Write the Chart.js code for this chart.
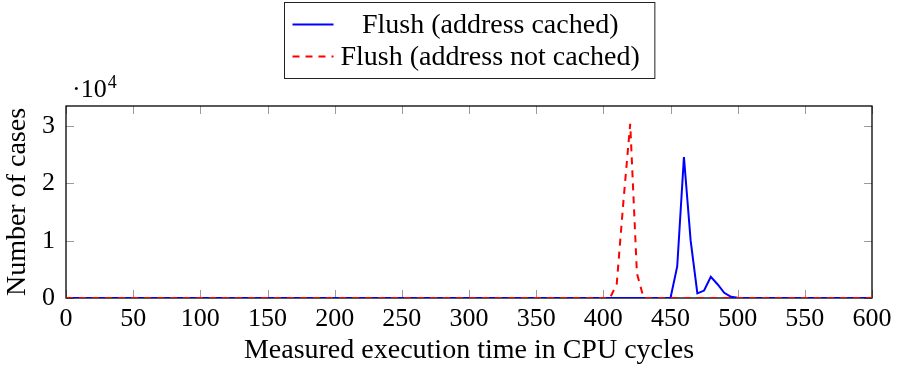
<!DOCTYPE html>
<html>
<head>
<meta charset="utf-8">
<title>Flush timing</title>
<script src="https://cdn.jsdelivr.net/npm/chart.js@4.4.0/dist/chart.umd.min.js"></script>
<style>
  html, body { margin: 0; padding: 0; background: #fff; }
</style>
</head>
<body>
<canvas id="myChart" width="899" height="368"></canvas>
<script>
// measured histograms (cycles -> number of cases)
const seriesLabels = ['Flush (address cached)', 'Flush (address not cached)'];
const cachedCycles = [0, 445, 450, 455, 460, 465, 470, 475, 480, 485, 490, 495, 500, 505, 600];
const cachedCounts = [0, 0, 0, 5500, 24600, 10000, 800, 1300, 3700, 2400, 900, 200, 50, 0, 0];
const notCachedCycles = [0, 400, 405, 410, 415, 420, 425, 430, 435, 600];
const notCachedCounts = [0, 0, 0, 2500, 17000, 30400, 4300, 0, 0, 0];
const xTicks = [0, 50, 100, 150, 200, 250, 300, 350, 400, 450, 500, 550, 600];
const yTicks = [0, 10000, 20000, 30000];
const yExponent = 4;

const SERIF = '"Liberation Serif", "Times New Roman", serif';

function toPoints(xs, ys) {
    return xs.map((x, i) => ({ x: x, y: ys[i] }));
}

// frame + inward tick marks on all four sides (pgfplots style)
const frameTicks = {
    id: 'frameTicks',
    beforeDatasetsDraw(chart) {
        const { ctx, chartArea: a, scales } = chart;
        const len = 8;
        ctx.save();
        ctx.strokeStyle = '#9a9a9a';
        ctx.lineWidth = 1;
        ctx.beginPath();
        xTicks.forEach(v => {
            const px = Math.round(scales.x.getPixelForValue(v)) + 0.5;
            ctx.moveTo(px, a.bottom); ctx.lineTo(px, a.bottom - len);
            ctx.moveTo(px, a.top); ctx.lineTo(px, a.top + len);
        });
        yTicks.forEach(v => {
            const py = Math.round(scales.y.getPixelForValue(v)) + 0.5;
            ctx.moveTo(a.left, py); ctx.lineTo(a.left + len, py);
            ctx.moveTo(a.right, py); ctx.lineTo(a.right - len, py);
        });
        ctx.stroke();
        ctx.strokeStyle = '#000';
        ctx.lineWidth = 1.3;
        ctx.strokeRect(a.left, a.top, a.right - a.left, a.bottom - a.top);
        ctx.restore();
    },
    afterDraw(chart) {
        // axis multiplier  ·10^4  above the y axis
        const { ctx, chartArea: a } = chart;
        ctx.save();
        ctx.fillStyle = '#000';
        ctx.textBaseline = 'alphabetic';
        ctx.textAlign = 'left';
        ctx.font = '26px ' + SERIF;
        const base = '\u00b710';
        const bx = a.left + 6, by = a.top - 9;
        ctx.fillText(base, bx, by);
        const bw = ctx.measureText(base).width;
        ctx.font = '18px ' + SERIF;
        ctx.fillText(String(yExponent), bx + bw + 1, by - 9);
        ctx.restore();
    }
};

// boxed legend above the plot, entries stacked, text centred in its column
const boxLegend = {
    id: 'boxLegend',
    afterDraw(chart) {
        const { ctx, chartArea: a } = chart;
        const ds = chart.data.datasets;
        ctx.save();
        ctx.font = '28px ' + SERIF;
        const textW = Math.max(...ds.map(d => ctx.measureText(d.label).width));
        const padL = 8, sample = 41, gap = 7, padR = 15, rowH = 32, padV = 6;
        const w = padL + sample + gap + textW + padR;
        const h = padV * 2 + rowH * ds.length;
        const x0 = Math.round((a.left + a.right) / 2 - w / 2) + 0.5;
        const y0 = 2.5;
        ctx.fillStyle = '#fff';
        ctx.fillRect(x0, y0, w, h);
        ctx.strokeStyle = '#222';
        ctx.lineWidth = 1;
        ctx.strokeRect(x0, y0, w, h);
        ds.forEach((d, i) => {
            const cy = y0 + padV + rowH * i + rowH / 2;
            ctx.strokeStyle = d.borderColor;
            ctx.lineWidth = d.borderWidth;
            ctx.setLineDash(d.borderDash || []);
            ctx.beginPath();
            ctx.moveTo(x0 + padL, cy);
            ctx.lineTo(x0 + padL + sample, cy);
            ctx.stroke();
            ctx.setLineDash([]);
            ctx.fillStyle = '#000';
            ctx.textAlign = 'center';
            ctx.textBaseline = 'middle';
            ctx.fillText(d.label, x0 + padL + sample + gap + textW / 2, cy + 1);
        });
        ctx.restore();
    }
};

const ctx = document.getElementById('myChart').getContext('2d');
const myChart = new Chart(ctx, {
    type: 'line',
    data: {
        datasets: [
            {
                label: seriesLabels[0],
                data: toPoints(cachedCycles, cachedCounts),
                borderColor: '#0000ff',
                borderWidth: 2,
                pointRadius: 0,
                tension: 0,
                fill: false,
                order: 1
            },
            {
                // dashed series sits on top of the solid one
                label: seriesLabels[1],
                data: toPoints(notCachedCycles, notCachedCounts),
                borderColor: '#ff0000',
                borderWidth: 2,
                borderDash: [7, 6],
                pointRadius: 0,
                tension: 0,
                fill: false,
                order: 0
            }
        ]
    },
    options: {
        responsive: false,
        devicePixelRatio: 1,
        animation: false,
        layout: { padding: { top: 106, right: 27, bottom: 0, left: 0 } },
        plugins: {
            legend: { display: false },
            tooltip: { enabled: false }
        },
        scales: {
            x: {
                type: 'linear',
                min: 0,
                max: 600,
                afterBuildTicks: s => { s.ticks = xTicks.map(v => ({ value: v })); },
                afterFit: s => { s.height = 70; },
                grid: { display: false, drawTicks: false },
                border: { display: false },
                ticks: {
                    color: '#000',
                    font: { family: SERIF, size: 26 },
                    padding: 6,
                    maxRotation: 0,
                    autoSkip: false
                },
                title: {
                    display: true,
                    text: 'Measured execution time in CPU cycles',
                    color: '#000',
                    font: { family: SERIF, size: 28 },
                    padding: { top: 0, bottom: 1 }
                }
            },
            y: {
                type: 'linear',
                min: 0,
                max: 33500,
                afterBuildTicks: s => { s.ticks = yTicks.map(v => ({ value: v })); },
                afterFit: s => { s.width = 66; },
                grid: { display: false, drawTicks: false },
                border: { display: false },
                ticks: {
                    color: '#000',
                    font: { family: SERIF, size: 26 },
                    padding: 11,
                    callback: v => v / Math.pow(10, yExponent)
                },
                title: {
                    display: true,
                    text: 'Number of cases',
                    color: '#000',
                    font: { family: SERIF, size: 28 },
                    padding: { top: 1, bottom: 0 }
                }
            }
        }
    },
    plugins: [frameTicks, boxLegend]
});
</script>
</body>
</html>
